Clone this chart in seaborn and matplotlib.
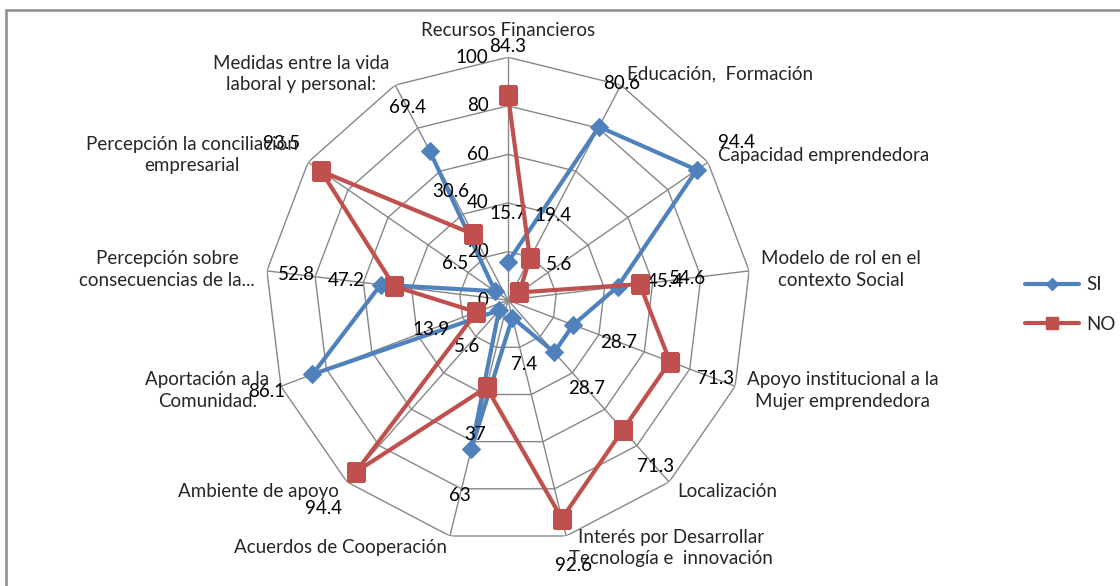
import numpy as np
import pandas as pd
import matplotlib
matplotlib.use("Agg")
import matplotlib.pyplot as plt
from matplotlib.lines import Line2D
import seaborn as sns

categories = [
    "Recursos Financieros",
    "Educación,  Formación",
    "Capacidad emprendedora",
    "Modelo de rol en el\ncontexto Social",
    "Apoyo institucional a la\nMujer emprendedora",
    "Localización",
    "Interés por Desarrollar\nTecnología e  innovación",
    "Acuerdos de Cooperación",
    "Ambiente de apoyo",
    "Aportación a la\nComunidad.",
    "Percepción sobre\nconsecuencias de la...",
    "Percepción la conciliación\nempresarial",
    "Medidas entre la vida\nlaboral y personal:",
]
si_values = [15.7, 80.6, 94.4, 45.4, 28.7, 28.7, 7.4, 63, 5.6, 86.1, 52.8, 6.5, 69.4]
no_values = [84.3, 19.4, 5.6, 54.6, 71.3, 71.3, 92.6, 37, 94.4, 13.9, 47.2, 93.5, 30.6]
r_ticks = [0, 20, 40, 60, 80, 100]

BLUE = "#4F81BD"
RED = "#C0504D"
GRID = "#878787"

sns.set_theme(style="white")
plt.rcParams["font.family"] = ["Lato", "DejaVu Sans"]
FS = 13.5

n = len(categories)
theta = np.arange(n) * 2 * np.pi / n
theta_closed = np.append(theta, theta[0])

df = pd.DataFrame({
    "theta": np.concatenate([theta_closed, theta_closed]),
    "value": si_values + si_values[:1] + no_values + no_values[:1],
    "serie": ["SI"] * (n + 1) + ["NO"] * (n + 1),
})

fig = plt.figure(figsize=(11.2, 5.86), dpi=100)
ax = fig.add_axes([0.2366, 0.0733, 0.434, 0.829], projection="polar")
ax.set_theta_zero_location("N")
ax.set_theta_direction(-1)
ax.set_ylim(0, 100)
ax.grid(False)
ax.spines["polar"].set_visible(False)
ax.set_xticks([])
ax.set_yticks([])
ax.patch.set_alpha(0)

# polygon grid + spokes
for r in r_ticks[1:]:
    ax.plot(theta_closed, [r] * (n + 1), color=GRID, lw=1, zorder=1)
for t in theta:
    ax.plot([t, t], [0, 100], color=GRID, lw=1, zorder=1)

sns.lineplot(data=df[df.serie == "SI"], x="theta", y="value", sort=False, ax=ax,
             color=BLUE, lw=3, marker="D", markersize=9, markeredgecolor=BLUE,
             legend=False, zorder=3)
sns.lineplot(data=df[df.serie == "NO"], x="theta", y="value", sort=False, ax=ax,
             color=RED, lw=3, marker="s", markersize=13, markeredgecolor=RED,
             legend=False, zorder=4)
ax.set_xlabel("")
ax.set_ylabel("")

# radial tick labels along top axis
for r in r_ticks:
    ax.annotate(str(r), (0, r), xytext=(-14, 0), textcoords="offset points",
                ha="right", va="center", fontsize=FS, color="black")

# data labels, pushed out along each spoke (one nudged like in the original)
label_push = {("SI", 10): 35}
for name, vals in (("SI", si_values), ("NO", no_values)):
    for i, (t, v) in enumerate(zip(theta, vals)):
        off = label_push.get((name, i), 20)
        ax.text(t, v + off, f"{v:g}", ha="center", va="center", fontsize=FS, color="black")

# category labels
for t, lab in zip(theta, categories):
    s = np.sin(t)
    if abs(s) < 1e-6:
        ax.text(t, 107.5, lab, ha="center", va="bottom", fontsize=FS)
    else:
        ha = "left" if s > 0 else "right"
        ax.text(t, 105, lab, ha=ha, va="center", fontsize=FS,
                multialignment="center", linespacing=1.3)

# legend
handles = [
    Line2D([], [], color=BLUE, lw=3, marker="D", markersize=6),
    Line2D([], [], color=RED, lw=3, marker="s", markersize=8),
]
fig.legend(handles, ["SI", "NO"], loc="center left", bbox_to_anchor=(0.9, 0.48),
           frameon=False, fontsize=FS, handlelength=2.9, labelspacing=1.2,
           handletextpad=0.4)

# chart-area border (top and left visible)
fig.add_artist(Line2D([6 / 1120, 1], [1 - 10 / 586] * 2, transform=fig.transFigure,
                      color="#8c8c8c", lw=1.8))
fig.add_artist(Line2D([6 / 1120] * 2, [0, 1 - 10 / 586], transform=fig.transFigure,
                      color="#8c8c8c", lw=1.8))

fig.savefig("out.png", dpi=100)
